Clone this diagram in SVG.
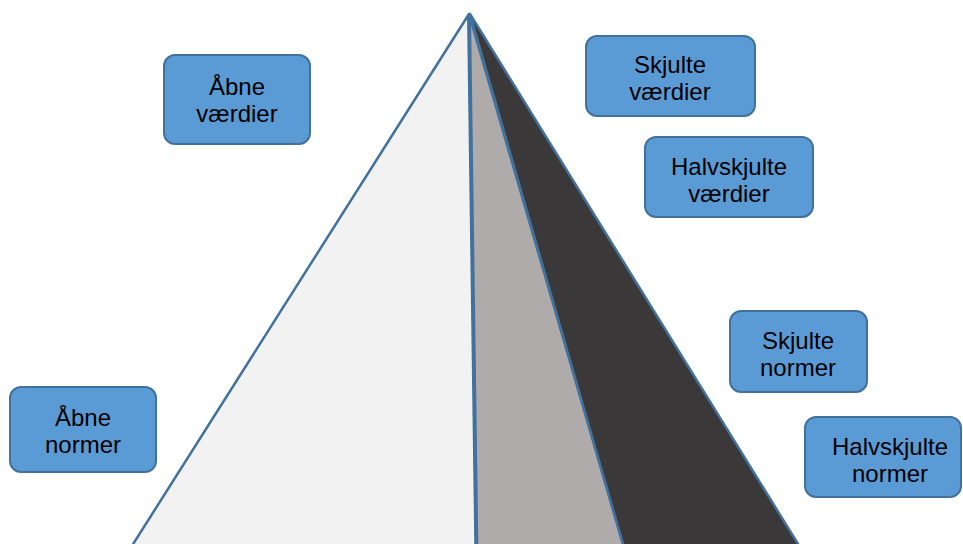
<svg xmlns="http://www.w3.org/2000/svg" width="963" height="544" viewBox="0 0 963 544">
<style>
.box{fill:#5B9BD5;stroke:#41719C;stroke-width:2}
.lbl{font-family:"Liberation Sans",Arial,sans-serif;font-size:24px;fill:#000;text-anchor:middle}
.edge{stroke:#41719C;stroke-width:2.5;stroke-linejoin:round}
</style>
<rect width="963" height="544" fill="#FFFFFF"/>
<g id="pyramid">
<polygon class="edge" points="469,14 123,560 476.5,560" fill="#F2F2F2"/>
<polygon class="edge" points="469,14 476.5,560 627.6,560" fill="#AFABAB"/>
<polygon class="edge" points="470,14 627.6,560 808,560" fill="#3A3838"/>
<line x1="469" y1="14" x2="476.5" y2="560" stroke="#41719C" stroke-width="4"/>
</g>
<g id="aabne-vaerdier">
<rect class="box" x="164" y="55" width="146" height="89" rx="11"/>
<text class="lbl" x="237" y="95">Åbne</text>
<text class="lbl" x="237" y="122">værdier</text>
</g>
<g id="skjulte-vaerdier">
<rect class="box" x="586" y="36" width="169" height="80" rx="11"/>
<text class="lbl" x="670" y="73">Skjulte</text>
<text class="lbl" x="670" y="100">værdier</text>
</g>
<g id="halvskjulte-vaerdier">
<rect class="box" x="645" y="137" width="168" height="80" rx="11"/>
<text class="lbl" x="729" y="175">Halvskjulte</text>
<text class="lbl" x="729" y="202">værdier</text>
</g>
<g id="skjulte-normer">
<rect class="box" x="730" y="311" width="137" height="81" rx="11"/>
<text class="lbl" x="798" y="349">Skjulte</text>
<text class="lbl" x="798" y="376">normer</text>
</g>
<g id="halvskjulte-normer">
<rect class="box" x="805" y="417" width="156" height="80" rx="11"/>
<text class="lbl" x="890" y="455">Halvskjulte</text>
<text class="lbl" x="890" y="482">normer</text>
</g>
<g id="aabne-normer">
<rect class="box" x="10" y="387" width="146" height="85" rx="11"/>
<text class="lbl" x="83" y="426">Åbne</text>
<text class="lbl" x="83" y="453">normer</text>
</g>
<g id="connectors"/>
</svg>
